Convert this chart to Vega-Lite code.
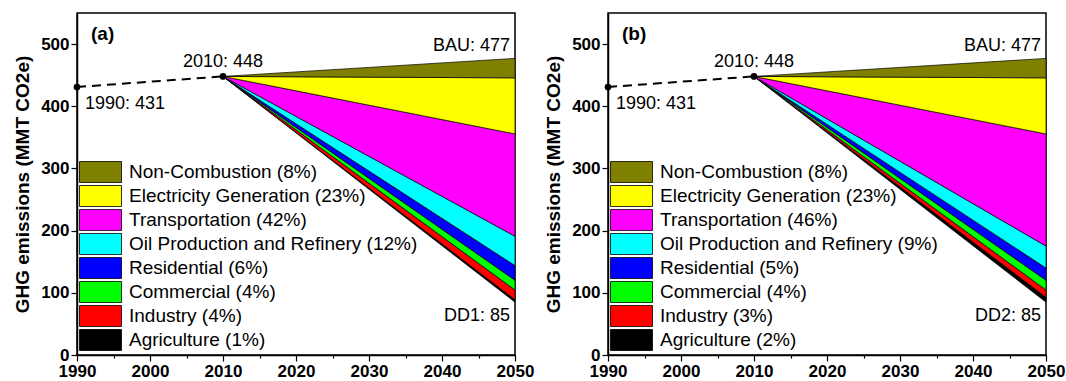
{
  "$schema": "https://vega.github.io/schema/vega-lite/v6.json",
  "padding": {"left": 12, "top": 12, "right": 5, "bottom": 5},
  "background": "white",
  "datasets": {
    "wedges": [
      {"panel": "a", "sector": "Agriculture (1%)", "year": 2010, "lo": 448, "hi": 448},
      {"panel": "a", "sector": "Agriculture (1%)", "year": 2050, "lo": 85, "hi": 88.9},
      {"panel": "a", "sector": "Industry (4%)", "year": 2010, "lo": 448, "hi": 448},
      {"panel": "a", "sector": "Industry (4%)", "year": 2050, "lo": 88.9, "hi": 104.6},
      {"panel": "a", "sector": "Commercial (4%)", "year": 2010, "lo": 448, "hi": 448},
      {"panel": "a", "sector": "Commercial (4%)", "year": 2050, "lo": 104.6, "hi": 120.3},
      {"panel": "a", "sector": "Residential (6%)", "year": 2010, "lo": 448, "hi": 448},
      {"panel": "a", "sector": "Residential (6%)", "year": 2050, "lo": 120.3, "hi": 143.8},
      {"panel": "a", "sector": "Oil Production and Refinery (12%)", "year": 2010, "lo": 448, "hi": 448},
      {"panel": "a", "sector": "Oil Production and Refinery (12%)", "year": 2050, "lo": 143.8, "hi": 190.9},
      {"panel": "a", "sector": "Transportation (42%)", "year": 2010, "lo": 448, "hi": 448},
      {"panel": "a", "sector": "Transportation (42%)", "year": 2050, "lo": 190.9, "hi": 355.5},
      {"panel": "a", "sector": "Electricity Generation (23%)", "year": 2010, "lo": 448, "hi": 448},
      {"panel": "a", "sector": "Electricity Generation (23%)", "year": 2050, "lo": 355.5, "hi": 445.7},
      {"panel": "a", "sector": "Non-Combustion (8%)", "year": 2010, "lo": 448, "hi": 448},
      {"panel": "a", "sector": "Non-Combustion (8%)", "year": 2050, "lo": 445.7, "hi": 477},
      {"panel": "b", "sector": "Agriculture (2%)", "year": 2010, "lo": 448, "hi": 448},
      {"panel": "b", "sector": "Agriculture (2%)", "year": 2050, "lo": 85, "hi": 92.8},
      {"panel": "b", "sector": "Industry (3%)", "year": 2010, "lo": 448, "hi": 448},
      {"panel": "b", "sector": "Industry (3%)", "year": 2050, "lo": 92.8, "hi": 104.6},
      {"panel": "b", "sector": "Commercial (4%)", "year": 2010, "lo": 448, "hi": 448},
      {"panel": "b", "sector": "Commercial (4%)", "year": 2050, "lo": 104.6, "hi": 120.3},
      {"panel": "b", "sector": "Residential (5%)", "year": 2010, "lo": 448, "hi": 448},
      {"panel": "b", "sector": "Residential (5%)", "year": 2050, "lo": 120.3, "hi": 139.9},
      {"panel": "b", "sector": "Oil Production and Refinery (9%)", "year": 2010, "lo": 448, "hi": 448},
      {"panel": "b", "sector": "Oil Production and Refinery (9%)", "year": 2050, "lo": 139.9, "hi": 175.2},
      {"panel": "b", "sector": "Transportation (46%)", "year": 2010, "lo": 448, "hi": 448},
      {"panel": "b", "sector": "Transportation (46%)", "year": 2050, "lo": 175.2, "hi": 355.5},
      {"panel": "b", "sector": "Electricity Generation (23%)", "year": 2010, "lo": 448, "hi": 448},
      {"panel": "b", "sector": "Electricity Generation (23%)", "year": 2050, "lo": 355.5, "hi": 445.7},
      {"panel": "b", "sector": "Non-Combustion (8%)", "year": 2010, "lo": 448, "hi": 448},
      {"panel": "b", "sector": "Non-Combustion (8%)", "year": 2050, "lo": 445.7, "hi": 477}
    ],
    "hist": [
      {"year": 1990, "value": 431},
      {"year": 2010, "value": 448}
    ],
    "ann": [
      {"panel": "a", "key": "start", "year": 2010, "value": 448, "text": "2010: 448"},
      {"panel": "a", "key": "base", "year": 1990, "value": 431, "text": "1990: 431"},
      {"panel": "a", "key": "bau", "year": 2050, "value": 477, "text": "BAU: 477"},
      {"panel": "a", "key": "dd", "year": 2050, "value": 85, "text": "DD1: 85"},
      {"panel": "a", "key": "tag", "year": 1990, "value": 550, "text": "(a)"},
      {"panel": "b", "key": "start", "year": 2010, "value": 448, "text": "2010: 448"},
      {"panel": "b", "key": "base", "year": 1990, "value": 431, "text": "1990: 431"},
      {"panel": "b", "key": "bau", "year": 2050, "value": 477, "text": "BAU: 477"},
      {"panel": "b", "key": "dd", "year": 2050, "value": 85, "text": "DD2: 85"},
      {"panel": "b", "key": "tag", "year": 1990, "value": 550, "text": "(b)"}
    ]
  },
  "hconcat": [
    {
      "width": 438,
      "height": 342,
      "encoding": {
        "x": {"field": "year", "type": "quantitative", "scale": {"domain": [1990, 2050], "nice": false, "zero": false}, "axis": {"values": [1990, 1995, 2000, 2005, 2010, 2015, 2020, 2025, 2030, 2035, 2040, 2045, 2050], "labelExpr": "datum.value % 10 == 0 ? datum.label : ''", "format": "d", "title": null, "tickSize": {"condition": {"test": "datum.value % 10 != 0", "value": 3}, "value": 6}}}
      },
      "layer": [
        {
          "data": {"name": "wedges"},
          "transform": [{"filter": "datum.panel == 'a'"}],
          "mark": {"type": "area", "stroke": "black", "strokeWidth": 0.7, "opacity": 1},
          "encoding": {
            "y": {"field": "hi", "type": "quantitative", "scale": {"domain": [0, 550], "nice": false}, "axis": {"values": [0, 50, 100, 150, 200, 250, 300, 350, 400, 450, 500], "labelExpr": "datum.value % 100 == 0 ? datum.label : ''", "title": "GHG emissions (MMT CO2e)", "tickSize": {"condition": {"test": "datum.value % 100 != 0", "value": 3}, "value": 6}}},
            "y2": {"field": "lo"},
            "color": {"field": "sector", "type": "nominal", "scale": {"domain": ["Non-Combustion (8%)", "Electricity Generation (23%)", "Transportation (42%)", "Oil Production and Refinery (12%)", "Residential (6%)", "Commercial (4%)", "Industry (4%)", "Agriculture (1%)"], "range": ["#808000", "#FFFF00", "#FF00FF", "#00FFFF", "#0000FF", "#00FF00", "#FF0000", "#000000"]}, "legend": {"title": null, "orient": "bottom-left", "offset": 2}}
          }
        },
        {
          "data": {"name": "hist"},
          "mark": {"type": "line", "color": "black", "strokeWidth": 2, "strokeDash": [9, 6]},
          "encoding": {"y": {"field": "value", "type": "quantitative"}}
        },
        {
          "data": {"name": "hist"},
          "mark": {"type": "point", "filled": true, "color": "black", "opacity": 1, "size": 45, "clip": false},
          "encoding": {"y": {"field": "value", "type": "quantitative"}}
        },
        {
          "data": {"name": "ann"},
          "transform": [{"filter": "datum.panel == 'a' && datum.key == 'start'"}],
          "mark": {"type": "text", "align": "center", "baseline": "alphabetic", "dy": -9, "fontSize": 18},
          "encoding": {"y": {"field": "value", "type": "quantitative"}, "text": {"field": "text"}}
        },
        {
          "data": {"name": "ann"},
          "transform": [{"filter": "datum.panel == 'a' && datum.key == 'base'"}],
          "mark": {"type": "text", "align": "left", "baseline": "top", "dx": 8, "dy": 8, "fontSize": 18},
          "encoding": {"y": {"field": "value", "type": "quantitative"}, "text": {"field": "text"}}
        },
        {
          "data": {"name": "ann"},
          "transform": [{"filter": "datum.panel == 'a' && datum.key == 'bau'"}],
          "mark": {"type": "text", "align": "right", "baseline": "alphabetic", "dx": -5, "dy": -7, "fontSize": 18},
          "encoding": {"y": {"field": "value", "type": "quantitative"}, "text": {"field": "text"}}
        },
        {
          "data": {"name": "ann"},
          "transform": [{"filter": "datum.panel == 'a' && datum.key == 'dd'"}],
          "mark": {"type": "text", "align": "right", "baseline": "top", "dx": -5, "dy": 5, "fontSize": 18},
          "encoding": {"y": {"field": "value", "type": "quantitative"}, "text": {"field": "text"}}
        },
        {
          "data": {"name": "ann"},
          "transform": [{"filter": "datum.panel == 'a' && datum.key == 'tag'"}],
          "mark": {"type": "text", "align": "left", "baseline": "top", "dx": 14, "dy": 12, "fontSize": 19, "fontWeight": "bold"},
          "encoding": {"y": {"field": "value", "type": "quantitative"}, "text": {"field": "text"}}
        }
      ]
    },
    {
      "width": 438,
      "height": 342,
      "encoding": {
        "x": {"field": "year", "type": "quantitative", "scale": {"domain": [1990, 2050], "nice": false, "zero": false}, "axis": {"values": [1990, 1995, 2000, 2005, 2010, 2015, 2020, 2025, 2030, 2035, 2040, 2045, 2050], "labelExpr": "datum.value % 10 == 0 ? datum.label : ''", "format": "d", "title": null, "tickSize": {"condition": {"test": "datum.value % 10 != 0", "value": 3}, "value": 6}}}
      },
      "layer": [
        {
          "data": {"name": "wedges"},
          "transform": [{"filter": "datum.panel == 'b'"}],
          "mark": {"type": "area", "stroke": "black", "strokeWidth": 0.7, "opacity": 1},
          "encoding": {
            "y": {"field": "hi", "type": "quantitative", "scale": {"domain": [0, 550], "nice": false}, "axis": {"values": [0, 50, 100, 150, 200, 250, 300, 350, 400, 450, 500], "labelExpr": "datum.value % 100 == 0 ? datum.label : ''", "title": "GHG emissions (MMT CO2e)", "tickSize": {"condition": {"test": "datum.value % 100 != 0", "value": 3}, "value": 6}}},
            "y2": {"field": "lo"},
            "color": {"field": "sector", "type": "nominal", "scale": {"domain": ["Non-Combustion (8%)", "Electricity Generation (23%)", "Transportation (46%)", "Oil Production and Refinery (9%)", "Residential (5%)", "Commercial (4%)", "Industry (3%)", "Agriculture (2%)"], "range": ["#808000", "#FFFF00", "#FF00FF", "#00FFFF", "#0000FF", "#00FF00", "#FF0000", "#000000"]}, "legend": {"title": null, "orient": "bottom-left", "offset": 2}}
          }
        },
        {
          "data": {"name": "hist"},
          "mark": {"type": "line", "color": "black", "strokeWidth": 2, "strokeDash": [9, 6]},
          "encoding": {"y": {"field": "value", "type": "quantitative"}}
        },
        {
          "data": {"name": "hist"},
          "mark": {"type": "point", "filled": true, "color": "black", "opacity": 1, "size": 45, "clip": false},
          "encoding": {"y": {"field": "value", "type": "quantitative"}}
        },
        {
          "data": {"name": "ann"},
          "transform": [{"filter": "datum.panel == 'b' && datum.key == 'start'"}],
          "mark": {"type": "text", "align": "center", "baseline": "alphabetic", "dy": -9, "fontSize": 18},
          "encoding": {"y": {"field": "value", "type": "quantitative"}, "text": {"field": "text"}}
        },
        {
          "data": {"name": "ann"},
          "transform": [{"filter": "datum.panel == 'b' && datum.key == 'base'"}],
          "mark": {"type": "text", "align": "left", "baseline": "top", "dx": 8, "dy": 8, "fontSize": 18},
          "encoding": {"y": {"field": "value", "type": "quantitative"}, "text": {"field": "text"}}
        },
        {
          "data": {"name": "ann"},
          "transform": [{"filter": "datum.panel == 'b' && datum.key == 'bau'"}],
          "mark": {"type": "text", "align": "right", "baseline": "alphabetic", "dx": -5, "dy": -7, "fontSize": 18},
          "encoding": {"y": {"field": "value", "type": "quantitative"}, "text": {"field": "text"}}
        },
        {
          "data": {"name": "ann"},
          "transform": [{"filter": "datum.panel == 'b' && datum.key == 'dd'"}],
          "mark": {"type": "text", "align": "right", "baseline": "top", "dx": -5, "dy": 5, "fontSize": 18},
          "encoding": {"y": {"field": "value", "type": "quantitative"}, "text": {"field": "text"}}
        },
        {
          "data": {"name": "ann"},
          "transform": [{"filter": "datum.panel == 'b' && datum.key == 'tag'"}],
          "mark": {"type": "text", "align": "left", "baseline": "top", "dx": 14, "dy": 12, "fontSize": 19, "fontWeight": "bold"},
          "encoding": {"y": {"field": "value", "type": "quantitative"}, "text": {"field": "text"}}
        }
      ]
    }
  ],
  "spacing": 93,
  "bounds": "flush",
  "resolve": {"scale": {"color": "independent"}},
  "config": {
    "font": "Liberation Sans",
    "view": {"stroke": "black", "strokeWidth": 1.5},
    "text": {"font": "Liberation Sans", "color": "black"},
    "axis": {
      "domainColor": "black",
      "domainWidth": 1.5,
      "tickColor": "black",
      "tickWidth": 1.2,
      "grid": false,
      "labelFont": "Liberation Sans",
      "labelFontSize": 17,
      "labelFontWeight": "bold",
      "labelColor": "black",
      "labelPadding": 2,
      "labelFlush": false,
      "labelOverlap": false,
      "titleFont": "Liberation Sans",
      "titleFontSize": 19,
      "titleFontWeight": "bold",
      "titleColor": "black",
      "titlePadding": 8
    },
    "legend": {
      "labelFont": "Liberation Sans",
      "labelFontSize": 19,
      "labelColor": "black",
      "labelLimit": 400,
      "symbolType": "M-1,-1H3V1H-1Z",
      "symbolSize": 441,
      "symbolStrokeColor": "black",
      "symbolStrokeWidth": 0.8,
      "symbolOpacity": 1,
      "labelOffset": 28,
      "rowPadding": -4.5,
      "padding": 0
    }
  }
}
